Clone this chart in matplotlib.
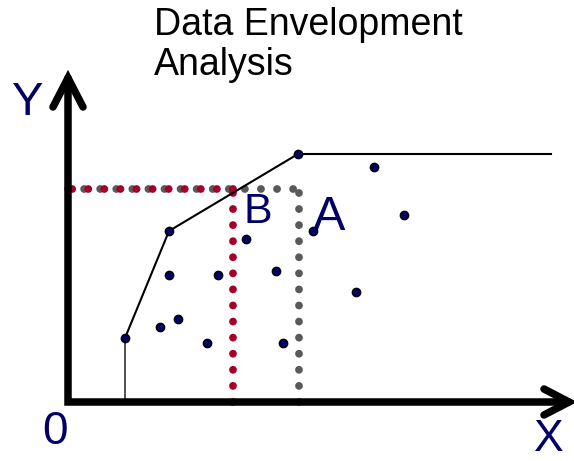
import matplotlib
matplotlib.use("Agg")
import matplotlib.pyplot as plt

# frontier (efficient units), in chart units measured from the origin
frontier_x = [57, 101, 230, 483]
frontier_y = [64, 171, 248, 248]

# inefficient units
pts_x = [306, 336, 245, 178, 101, 150, 208, 288, 92, 110, 139, 215]
pts_y = [235, 187, 171, 163, 127, 127, 131, 110, 75, 83, 59, 59]

# projections of A and B
a_x, b_x, level_y = 231, 165, 213

navy = "#000066"
red = "#a50028"
gray = "#595959"
font = "Liberation Sans"

fig = plt.figure(figsize=(5.74, 4.61), dpi=100)
ax = fig.add_axes([0, 0, 1, 1])
ax.set_xlim(-68, 506)
ax.set_ylim(-59, 402)
ax.axis("off")

# dotted projection lines (round dots, 16 px apart)
dlw = 5.6
dots = (0, (0.01, 16 * 0.72 / dlw))
ax.plot([0, a_x], [level_y, level_y], color=gray, lw=dlw, ls=dots, dash_capstyle="round")
ax.plot([b_x, 0], [level_y, level_y], color=red, lw=dlw, ls=dots, dash_capstyle="round")
ax.plot([a_x, a_x], [0, level_y], color=gray, lw=dlw, ls=dots, dash_capstyle="round")
ax.plot([b_x, b_x], [0, level_y], color=red, lw=dlw, ls=dots, dash_capstyle="round")

# frontier
ax.plot([frontier_x[0], frontier_x[0]], [0, frontier_y[0]], color="#333333", lw=1.2)
ax.plot(frontier_x, frontier_y, color="black", lw=1.5)

ax.scatter(frontier_x[:3], frontier_y[:3], s=36, color=navy, edgecolor="black", lw=1, zorder=5)
ax.scatter(pts_x, pts_y, s=36, color=navy, edgecolor="black", lw=1, zorder=5)

# axes with arrows
alw = 5.4
ax.plot([0, 0, 501], [324, 0, 0], color="black", lw=alw, solid_joinstyle="miter",
        solid_capstyle="round", zorder=6)
ax.plot([-15, 0, 15], [295, 324, 295], color="black", lw=alw, solid_capstyle="round",
        solid_joinstyle="miter", zorder=6)
ax.plot([476, 501, 476], [13, 0, -13], color="black", lw=alw, solid_capstyle="round",
        solid_joinstyle="miter", zorder=6)

# labels
ax.text(-56, 287, "Y", color=navy, fontsize=34, family=font, ha="left", va="baseline")
ax.text(-13, -42, "0", color=navy, fontsize=33, family=font, ha="center", va="baseline")
ax.text(481, -49, "X", color=navy, fontsize=32, family=font, ha="center", va="baseline")
ax.text(261, 172, "A", color=navy, fontsize=35, family=font, ha="center", va="baseline")
ax.text(189.5, 179, "B", color=navy, fontsize=31, family=font, ha="center", va="baseline")

ax.text(86, 367, "Data Envelopment", color="black", fontsize=27, family=font,
        ha="left", va="baseline")
ax.text(86, 327, "Analysis", color="black", fontsize=27, family=font,
        ha="left", va="baseline")

fig.savefig("out.png", dpi=100)
plt.close(fig)
